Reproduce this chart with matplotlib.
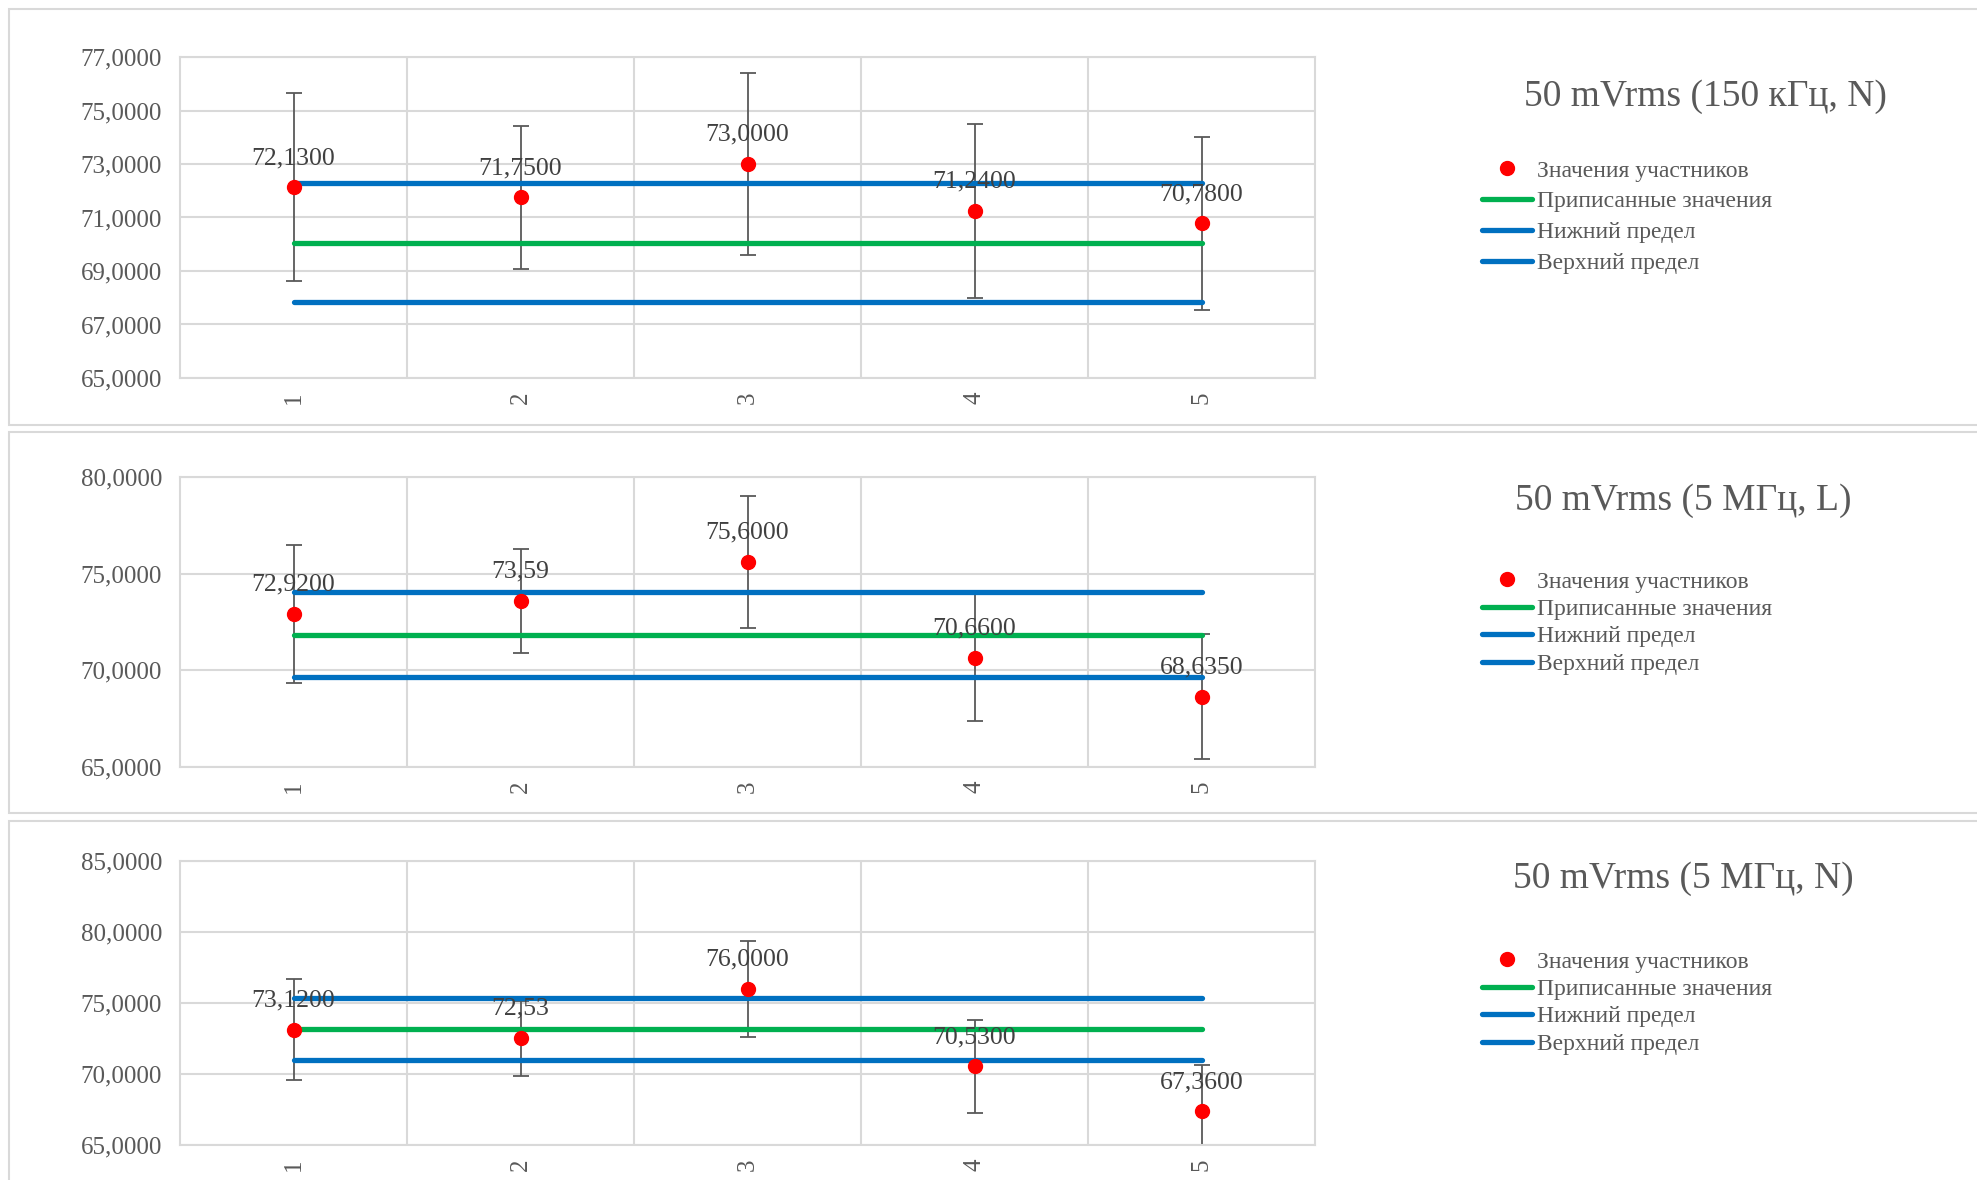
import matplotlib
matplotlib.use('Agg')
import matplotlib.pyplot as plt
import numpy as np
from matplotlib.lines import Line2D
from matplotlib.patches import Rectangle
from matplotlib.ticker import FuncFormatter

# participants 1..5
participants = [1, 2, 3, 4, 5]

titles = ['50 mVrms (150 кГц, N)', '50 mVrms (5 МГц, L)', '50 mVrms (5 МГц, N)']

# participant values and their expanded uncertainties
values_1 = [72.13, 71.75, 73.00, 71.24, 70.78]
err_1 = [3.52, 2.68, 3.40, 3.25, 3.23]
values_2 = [72.92, 73.59, 75.60, 70.66, 68.635]
err_2 = [3.55, 2.67, 3.42, 3.30, 3.23]
values_3 = [73.12, 72.53, 76.00, 70.53, 67.36]
err_3 = [3.55, 2.64, 3.40, 3.30, 3.25]

# assigned value and acceptance limits
assigned = [70.06, 71.84, 73.20]
lower_lim = [67.84, 69.63, 71.02]
upper_lim = [72.29, 74.04, 75.38]

# decimals shown in the data labels
decimals_1 = [4, 4, 4, 4, 4]
decimals_2 = [4, 2, 4, 4, 4]
decimals_3 = [4, 2, 4, 4, 4]

# y axis: min, max, step
y_ranges = [(65, 77, 2), (65, 80, 5), (65, 85, 5)]

legend_labels = ['Значения участников', 'Приписанные значения', 'Нижний предел', 'Верхний предел']

values = [values_1, values_2, values_3]
errors = [err_1, err_2, err_3]
decimals = [decimals_1, decimals_2, decimals_3]

RED = '#FF0000'
GREEN = '#00B050'
BLUE = '#0070C0'
TXT = '#595959'
GRID = '#D9D9D9'

plt.rcParams['font.family'] = ['Liberation Serif', 'DejaVu Serif']

W, H = 1977, 1180
fig = plt.figure(figsize=(W / 100, H / 100), dpi=100)


def px(x0, y0, x1, y1):
    # pixel box (top-left origin) -> figure fraction [left, bottom, width, height]
    return [x0 / W, 1 - y1 / H, (x1 - x0) / W, (y1 - y0) / H]


def comma(v, nd):
    return (('%.' + str(nd) + 'f') % v).replace('.', ',')


# chart frames and plot areas, in pixels
frames = [(9, 9, 2000, 425), (9, 432, 2000, 813), (9, 821, 2000, 1200)]
plot_areas = [(180, 57, 1315, 378), (180, 477, 1315, 767), (180, 861, 1315, 1145)]
title_pos = [(1705, 97), (1683, 501), (1683, 879)]
legend_pos = [(1482, 160), (1482, 571), (1482, 951)]
legend_spacing = [0.4, 0.25, 0.25]

for i in range(3):
    fb = px(*frames[i])
    fig.patches.append(Rectangle((fb[0], fb[1]), fb[2], fb[3], transform=fig.transFigure,
                                 facecolor='white', edgecolor=GRID, linewidth=1.5, zorder=-1))

    ax = fig.add_axes(px(*plot_areas[i]))
    ax.set_facecolor('white')
    lo, hi, step = y_ranges[i]
    ax.set_ylim(lo, hi)
    ax.set_xlim(0.5, 5.5)
    ax.set_yticks(np.arange(lo, hi + step / 2, step))
    ax.yaxis.set_major_formatter(FuncFormatter(lambda v, p: comma(v, 4)))
    ax.set_xticks(participants)
    ax.set_xticklabels([str(p) for p in participants], rotation=90)
    # category gridlines sit between the participants
    ax.set_xticks([1.5, 2.5, 3.5, 4.5], minor=True)
    ax.grid(True, which='major', axis='y', color=GRID, linewidth=1.5)
    ax.grid(True, which='minor', axis='x', color=GRID, linewidth=1.5)
    ax.set_axisbelow(True)
    ax.tick_params(axis='both', which='both', length=0, labelsize=18, colors=TXT)
    ax.tick_params(axis='y', pad=13)
    ax.tick_params(axis='x', pad=10)
    for s in ax.spines.values():
        s.set_color(GRID)
        s.set_linewidth(1.5)

    # uncertainty bars
    ax.errorbar(participants, values[i], yerr=errors[i], fmt='none', ecolor=TXT,
                elinewidth=1.3, capsize=6, capthick=1.3, zorder=2)

    n = len(participants)
    ax.plot(participants, [assigned[i]] * n, color=GREEN, linewidth=3.8,
            solid_capstyle='round', zorder=3)
    ax.plot(participants, [lower_lim[i]] * n, color=BLUE, linewidth=3.8,
            solid_capstyle='round', zorder=3)
    ax.plot(participants, [upper_lim[i]] * n, color=BLUE, linewidth=3.8,
            solid_capstyle='round', zorder=3)
    ax.plot(participants, values[i], linestyle='None', marker='o', markersize=10,
            color=RED, zorder=4)

    for x, v, nd in zip(participants, values[i], decimals[i]):
        ax.annotate(comma(v, nd), (x, v), xytext=(0, 21),
                    textcoords='offset points', ha='center', va='center',
                    fontsize=18.5, color='#404040', zorder=5)

    tx, ty = title_pos[i]
    fig.text(tx / W, 1 - ty / H, titles[i], ha='center', va='center', fontsize=27, color=TXT)

    handles = [Line2D([], [], linestyle='None', marker='o', markersize=10, color=RED),
               Line2D([], [], color=GREEN, linewidth=3.8, solid_capstyle='round'),
               Line2D([], [], color=BLUE, linewidth=3.8, solid_capstyle='round'),
               Line2D([], [], color=BLUE, linewidth=3.8, solid_capstyle='round')]
    lx, ly = legend_pos[i]
    leg = fig.legend(handles, legend_labels, loc='upper left',
                     bbox_to_anchor=(lx / W, 1 - ly / H), frameon=False, fontsize=17,
                     handlelength=2.1, handletextpad=0.25, labelspacing=legend_spacing[i],
                     borderpad=0, borderaxespad=0)
    for t in leg.get_texts():
        t.set_color(TXT)

fig.savefig('out.png', dpi=100, facecolor='white')
